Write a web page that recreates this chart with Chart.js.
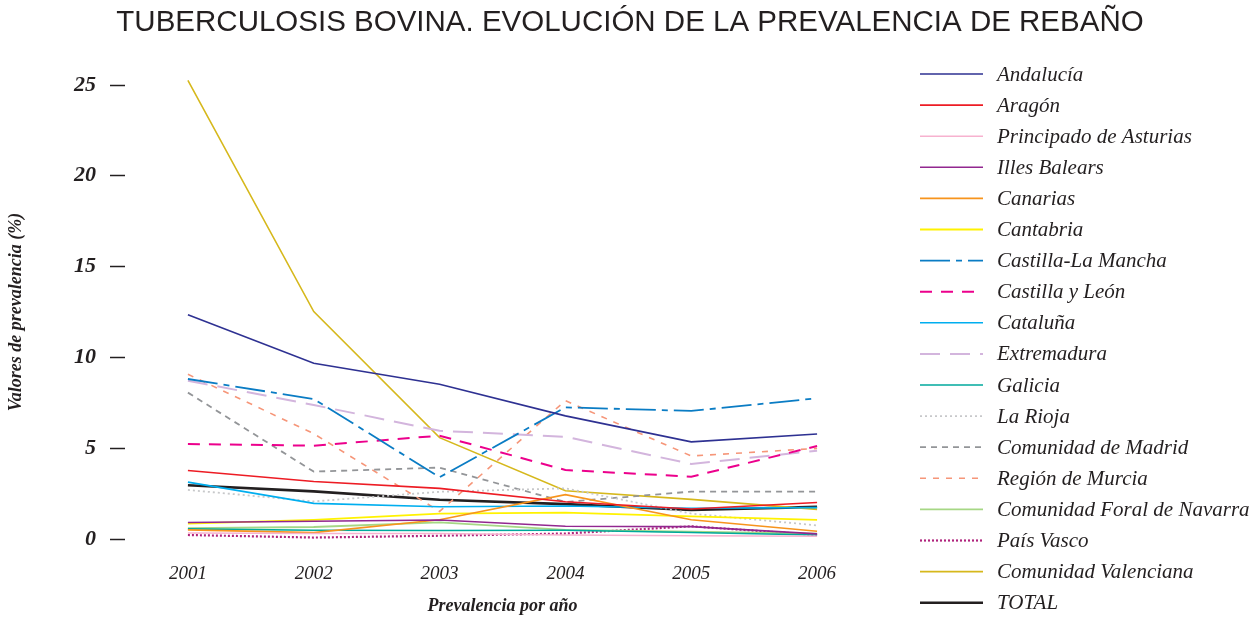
<!DOCTYPE html>
<html>
<head>
<meta charset="utf-8">
<script src="https://cdn.jsdelivr.net/npm/chart.js@4.4.0/dist/chart.umd.min.js"></script>
<style>
  html, body { margin: 0; padding: 0; background: #fff; }
  #wrap { width: 1258px; height: 619px; }
</style>
</head>
<body>
<div id="wrap"><canvas id="chart"></canvas></div>
<script>
// years on the x axis
const years = ['2001', '2002', '2003', '2004', '2005', '2006'];

// prevalence values (%) per region
const andalucia      = [12.35, 9.68, 8.52, 6.78, 5.35, 5.78];
const aragon         = [3.77, 3.17, 2.79, 2.05, 1.65, 2.01];
const asturias       = [0.33, 0.30, 0.30, 0.22, 0.18, 0.15];
const balears        = [0.91, 0.98, 1.05, 0.70, 0.68, 0.28];
const canarias       = [0.50, 0.35, 1.06, 2.44, 1.06, 0.43];
const cantabria      = [0.85, 1.05, 1.40, 1.45, 1.25, 1.05];
const castillaMancha = [8.81, 7.71, 3.40, 7.25, 7.05, 7.75];
const castillaLeon   = [5.23, 5.14, 5.69, 3.80, 3.43, 5.12];
const cataluna       = [3.13, 1.96, 1.78, 1.82, 1.69, 1.73];
const extremadura    = [8.72, 7.38, 5.96, 5.63, 4.13, 4.86];
const galicia        = [0.56, 0.48, 0.47, 0.48, 0.36, 0.22];
const rioja          = [2.70, 2.07, 2.60, 2.79, 1.40, 0.75];
const madrid         = [8.06, 3.71, 3.93, 2.04, 2.61, 2.61];
const murcia         = [9.07, 5.80, 1.52, 7.62, 4.57, 4.99];
const navarra        = [0.60, 0.66, 0.91, 0.50, 0.40, 0.30];
const paisVasco      = [0.22, 0.08, 0.18, 0.30, 0.70, 0.22];
const valenciana     = [25.25, 12.52, 5.58, 2.66, 2.18, 1.63];
const total          = [2.96, 2.62, 2.16, 1.92, 1.60, 1.77];

const yTicks = [0, 5, 10, 15, 20, 25];

function line(label, data, color, width, dash) {
    return {
        label: label,
        data: data,
        borderColor: color,
        backgroundColor: color,
        borderWidth: width,
        borderDash: dash || [],
        pointRadius: 0,
        tension: 0,
        fill: false
    };
}

// legend and title drawn by hand so the dashes show like the original
const customDraw = {
    id: 'customDraw',
    afterDraw(chart) {
        const ctx = chart.ctx;
        ctx.save();
        ctx.fillStyle = '#231f20';
        ctx.font = '29.5px "Liberation Sans", Arial, sans-serif';
        ctx.textAlign = 'center';
        ctx.textBaseline = 'middle';
        ctx.fillText('TUBERCULOSIS BOVINA. EVOLUCIÓN DE LA PREVALENCIA DE REBAÑO', 630, 23);

        ctx.textAlign = 'left';
        ctx.font = 'italic 21px "Liberation Serif", "DejaVu Serif", serif';
        chart.data.datasets.forEach((ds, i) => {
            const y = 74 + i * 31.1;
            ctx.beginPath();
            ctx.setLineDash(ds.borderDash);
            ctx.strokeStyle = ds.borderColor;
            ctx.lineWidth = ds.borderWidth;
            ctx.moveTo(920, y);
            ctx.lineTo(983, y);
            ctx.stroke();
            ctx.setLineDash([]);
            ctx.fillStyle = '#231f20';
            ctx.fillText(ds.label, 997, y + 1);
        });
        ctx.restore();
    }
};

const ctx = document.getElementById('chart').getContext('2d');
const chart = new Chart(ctx, {
    type: 'line',
    data: {
        labels: years,
        datasets: [
            line('Andalucía', andalucia, '#2e3192', 1.6),
            line('Aragón', aragon, '#ed1c24', 1.6),
            line('Principado de Asturias', asturias, '#f7b2cf', 1.6),
            line('Illes Balears', balears, '#92278f', 1.6),
            line('Canarias', canarias, '#f7941d', 1.6),
            line('Cantabria', cantabria, '#fff200', 1.8),
            line('Castilla-La Mancha', castillaMancha, '#0a7cc4', 1.8, [30, 6, 6, 6]),
            line('Castilla y León', castillaLeon, '#ec008c', 2, [12, 9]),
            line('Cataluña', cataluna, '#00aeef', 1.6),
            line('Extremadura', extremadura, '#d3b5dd', 2, [20, 10]),
            line('Galicia', galicia, '#00a99d', 1.6),
            line('La Rioja', rioja, '#c7c8ca', 1.8, [2, 3]),
            line('Comunidad de Madrid', madrid, '#939598', 1.8, [6, 5]),
            line('Región de Murcia', murcia, '#f69679', 1.6, [6, 7]),
            line('Comunidad Foral de Navarra', navarra, '#a6d785', 1.8),
            line('País Vasco', paisVasco, '#b0237c', 2.2, [2, 2]),
            line('Comunidad Valenciana', valenciana, '#d6b81c', 1.6),
            line('TOTAL', total, '#231f20', 2.6)
        ]
    },
    options: {
        responsive: true,
        maintainAspectRatio: false,
        animation: false,
        layout: {
            padding: { top: 85, right: 378, left: 0, bottom: 0 }
        },
        elements: { line: { borderCapStyle: 'butt' } },
        datasets: { line: { clip: false } },
        plugins: {
            legend: { display: false },
            title: { display: false },
            tooltip: { enabled: false }
        },
        scales: {
            x: {
                offset: true,
                grid: { display: false },
                border: { display: false },
                ticks: {
                    color: '#231f20',
                    padding: 16,
                    font: { family: '"Liberation Serif", serif', style: 'italic', size: 19 }
                },
                title: {
                    display: true,
                    text: 'Prevalencia por año',
                    color: '#231f20',
                    padding: { top: 4, bottom: 2 },
                    font: { family: '"Liberation Serif", serif', style: 'italic', weight: 'bold', size: 18 }
                },
                afterFit(scale) { scale.height = 80; }
            },
            y: {
                min: 0,
                max: 25,
                afterBuildTicks(scale) {
                    scale.ticks = yTicks.map(v => ({ value: v }));
                },
                grid: {
                    drawOnChartArea: false,
                    drawTicks: true,
                    tickLength: 15,
                    tickWidth: 1.5,
                    tickColor: '#231f20'
                },
                border: { display: false },
                ticks: {
                    color: '#231f20',
                    padding: 14,
                    font: { family: '"Liberation Serif", serif', style: 'italic', weight: 'bold', size: 22 }
                },
                title: {
                    display: true,
                    text: 'Valores de prevalencia (%)',
                    color: '#231f20',
                    padding: { top: 6, bottom: 4 },
                    font: { family: '"Liberation Serif", serif', style: 'italic', weight: 'bold', size: 18 }
                },
                afterFit(scale) { scale.width = 125; }
            }
        }
    },
    plugins: [customDraw]
});
</script>
</body>
</html>
